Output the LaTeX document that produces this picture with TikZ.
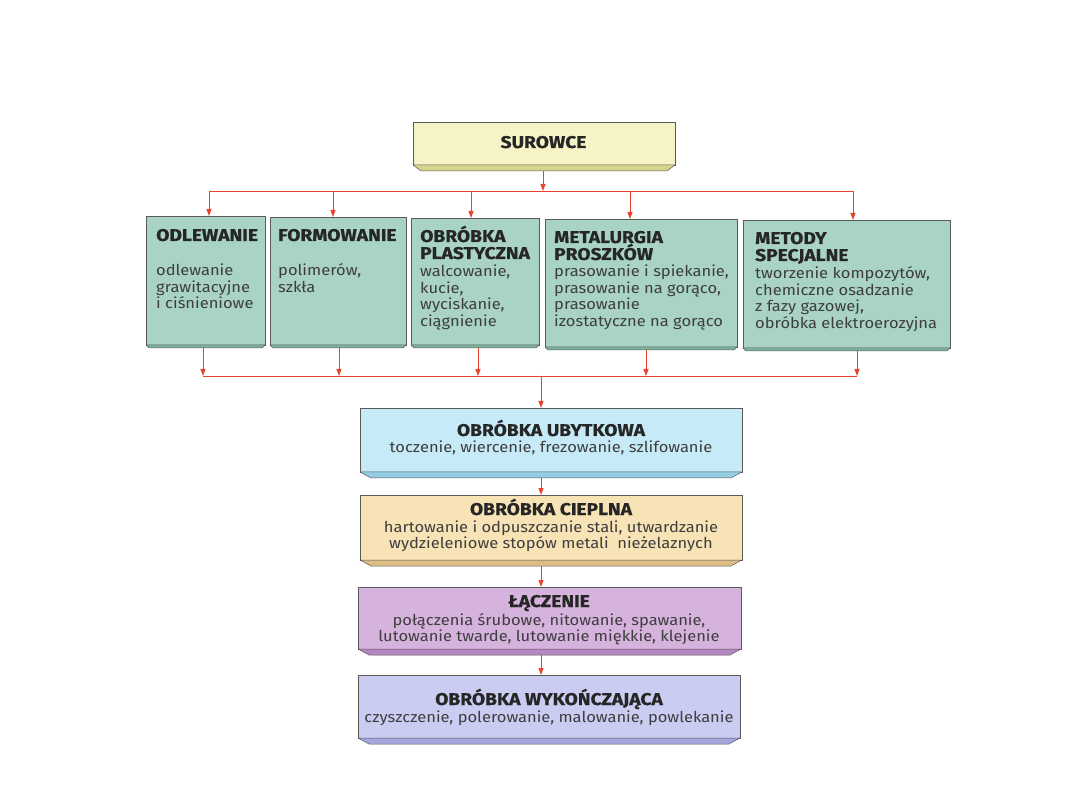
\documentclass[tikz,border=0pt]{standalone}
\usepackage{fontspec}
\setmainfont{Fira Sans}
\newfontfamily\hfont{Fira Sans}[FakeStretch=1.13,BoldFeatures={FakeBold=0.6}]
\newfontfamily\bfont{Fira Sans}[FakeStretch=1.1]
\usetikzlibrary{arrows.meta,calc}
\definecolor{arrowred}{HTML}{E8432C}
\definecolor{bordergray}{HTML}{5A5A5A}
\definecolor{headgray}{HTML}{262626}
\definecolor{bodygray}{HTML}{3E3E3E}
\definecolor{surF}{HTML}{F6F4C6}\definecolor{surB}{HTML}{D6D38A}
\definecolor{tealF}{HTML}{A9D3C4}\definecolor{tealB}{HTML}{7DB39C}
\definecolor{ubyF}{HTML}{C6EAF7}\definecolor{ubyB}{HTML}{94CDE4}
\definecolor{cieF}{HTML}{F8E3B6}\definecolor{cieB}{HTML}{DCBE84}
\definecolor{lacF}{HTML}{D5B3DD}\definecolor{lacB}{HTML}{B487C0}
\definecolor{wykF}{HTML}{CACCF2}\definecolor{wykB}{HTML}{A4A8DF}
% multi-line blocks whose first baseline is the node baseline; lines separated by \cr
\newcommand\vl[1]{\vtop{\lineskiplimit=-50pt\lineskip=0pt\halign{##\hfil\cr#1\crcr}}}
\newcommand\vc[1]{\vtop{\lineskiplimit=-50pt\lineskip=0pt\halign{\hfil##\hfil\cr#1\crcr}}}
% name, x1, y1, x2, y2, face, bevel, inset, depth
\newcommand\bx[9]{%
  \node[boxst, fill=#6, minimum width={#4-#2}, minimum height={#5-#3}, anchor=north west] (#1) at (#2,#3) {};
  \filldraw[bevst, fill=#7] (#1.south west) -- (#1.south east) -- ++(-#8,#9) -- ($(#1.south west)+(#8,#9)$) -- cycle;
  \coordinate (#1b) at ($(#1.south)+(0,#9)$);
}
\begin{document}
\begin{tikzpicture}[x=1pt,y=-1pt,
  boxst/.style={draw=bordergray, line width=0.6pt, inner sep=0pt, outer sep=0pt},
  bevst/.style={draw=bordergray, line width=0.5pt, line join=round},
  head/.style={font=\hfont\bfseries\fontsize{17}{17}\selectfont, text=headgray, inner sep=0pt},
  body/.style={font=\bfont\fontsize{15}{16.4}\selectfont, text=bodygray, inner sep=0pt},
  arr/.style={draw=arrowred, line width=0.9pt, -{Triangle[length=7pt,width=5pt]}},
  ln/.style={draw=arrowred, line width=0.9pt}]
\useasboundingbox (0,0) rectangle (1080,810);
% boxes
\bx{sur}{413}{122}{675}{165}{surF}{surB}{8}{6}
\bx{odl}{146}{216}{265}{345}{tealF}{tealB}{3}{3}
\bx{frm}{270}{217}{406}{345}{tealF}{tealB}{3}{3}
\bx{pla}{411}{218}{539}{345}{tealF}{tealB}{3}{3}
\bx{met}{545}{219}{737}{347}{tealF}{tealB}{3}{3}
\bx{spe}{743}{220}{950}{348}{tealF}{tealB}{3}{3}
\bx{uby}{360}{408}{742}{472}{ubyF}{ubyB}{11}{6}
\bx{cie}{360}{495}{742}{560}{cieF}{cieB}{11}{6}
\bx{lac}{358}{587}{741}{649}{lacF}{lacB}{11}{6}
\bx{wyk}{358}{675}{740}{738}{wykF}{wykB}{11}{6}
% texts
\node[head, anchor=base] (surH) at (543.5,148) {SUROWCE};
\node[head, anchor=base west] (odlH) at (156,241) {ODLEWANIE};
\node[body, anchor=base west] (odlT) at (156,276) {\vl{odlewanie\cr grawitacyjne\cr i ciśnieniowe}};
\node[head, anchor=base west] (frmH) at (278,241) {FORMOWANIE};
\node[body, anchor=base west] (frmT) at (278,276) {\vl{polimerów,\cr szkła}};
\node[head, anchor=base west] (plaH) at (420,242) {\vl{OBRÓBKA\cr PLASTYCZNA}};
\node[body, anchor=base west] (plaT) at (420,277) {\vl{walcowanie,\cr kucie,\cr wyciskanie,\cr ciągnienie}};
\node[head, anchor=base west] (metH) at (554,243) {\vl{METALURGIA\cr PROSZKÓW}};
\node[body, anchor=base west] (metT) at (554,277) {\vl{prasowanie i spiekanie,\cr prasowanie na gorąco,\cr prasowanie\cr izostatyczne na gorąco}};
\node[head, anchor=base west] (speH) at (755,244) {\vl{METODY\cr SPECJALNE}};
\node[body, anchor=base west] (speT) at (755,279) {\vl{tworzenie kompozytów,\cr chemiczne osadzanie\cr z fazy gazowej,\cr obróbka elektroerozyjna}};
\node[head, anchor=base] (ubyH) at (551,436) {OBRÓBKA UBYTKOWA};
\node[body, anchor=base] (ubyT) at (551,453) {toczenie, wiercenie, frezowanie, szlifowanie};
\node[head, anchor=base] (cieH) at (551,515) {OBRÓBKA CIEPLNA};
\node[body, anchor=base] (cieT) at (551,532) {\vc{hartowanie i odpuszczanie stali, utwardzanie\cr wydzieleniowe stopów metali\ \ nieżelaznych}};
\node[head, anchor=base] (lacH) at (549,607) {ŁĄCZENIE};
\node[body, anchor=base] (lacT) at (549,625) {\vc{połączenia śrubowe, nitowanie, spawanie,\cr lutowanie twarde, lutowanie miękkie, klejenie}};
\node[head, anchor=base] (wykH) at (549,705) {OBRÓBKA WYKOŃCZAJĄCA};
\node[body, anchor=base] (wykT) at (549,722) {czyszczenie, polerowanie, malowanie, powlekanie};
% top distribution
\coordinate (tc) at (543,191);
\coordinate (t1) at (209,191);
\coordinate (t2) at (333,191);
\coordinate (t3) at (471,191);
\coordinate (t4) at (630,191);
\coordinate (t5) at (853,191);
\draw[arr] (tc |- surb) -- (tc);
\draw[ln] (t1) -- (t5);
\draw[arr] (t1) -- (t1 |- odl.north);
\draw[arr] (t2) -- (t2 |- frm.north);
\draw[arr] (t3) -- (t3 |- pla.north);
\draw[arr] (t4) -- (t4 |- met.north);
\draw[arr] (t5) -- (t5 |- spe.north);
% bottom collection
\coordinate (bc) at (541,376);
\coordinate (b1) at (203,376);
\coordinate (b2) at (339,376);
\coordinate (b3) at (478,376);
\coordinate (b4) at (646,376);
\coordinate (b5) at (857,376);
\draw[ln] (b1) -- (b5);
\draw[arr] (b1 |- odlb) -- (b1);
\draw[arr] (b2 |- frmb) -- (b2);
\draw[arr] (b3 |- plab) -- (b3);
\draw[arr] (b4 |- metb) -- (b4);
\draw[arr] (b5 |- speb) -- (b5);
\draw[arr] (bc) -- (bc |- uby.north);
% chain
\draw[arr] (bc |- ubyb) -- (bc |- cie.north);
\draw[arr] (bc |- cieb) -- (bc |- lac.north);
\draw[arr] (bc |- lacb) -- (bc |- wyk.north);
\end{tikzpicture}
\end{document}
